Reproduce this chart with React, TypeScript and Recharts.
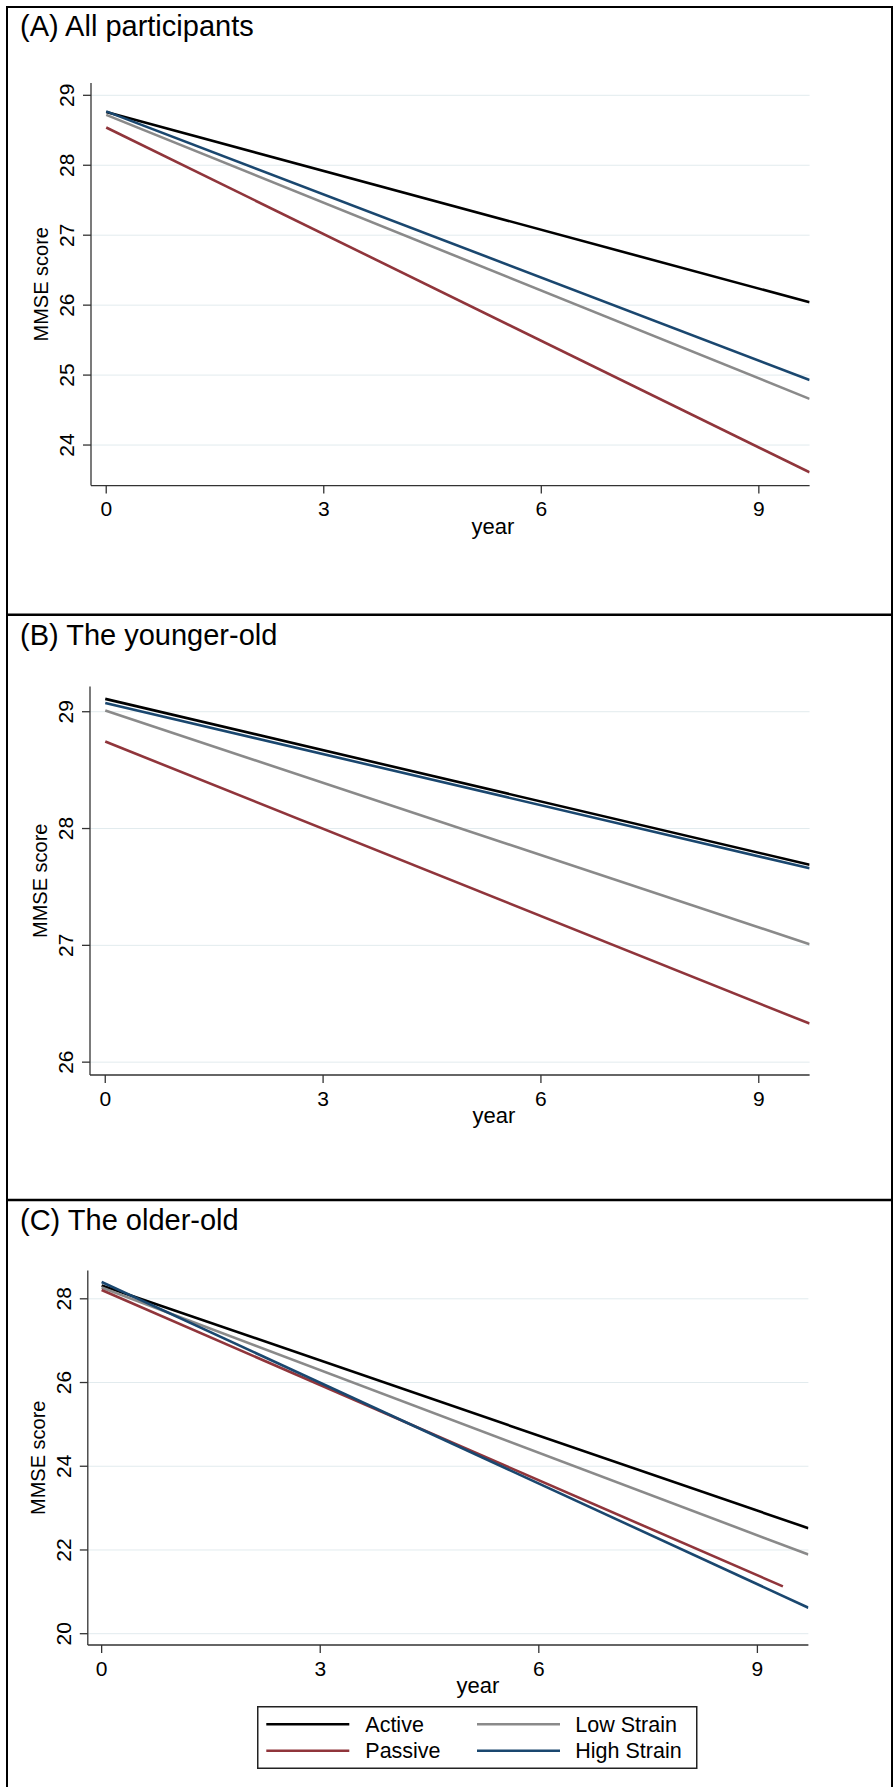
import React from 'react';
import { LineChart, Line, XAxis, YAxis, CartesianGrid } from 'recharts';

const FONT = '"Liberation Sans", Arial, Helvetica, sans-serif';
const W = 894;
const H = 1787;
const Y_AXIS_W = 60;
const X_AXIS_H = 40;

const seriesNames = ['Active', 'Low Strain', 'Passive', 'High Strain'];
const seriesColors = ['#000000', '#8a8a8a', '#90353b', '#1a476f'];
const xTicks = [0, 3, 6, 9];

// (A) All participants
const titleA = '(A) All participants';
const yearsA = [0, 9.7];
const activeA = [28.76, 26.04];
const lowA = [28.72, 24.66];
const passiveA = [28.54, 23.61];
const highA = [28.77, 24.93];
const yTicksA = [24, 25, 26, 27, 28, 29];

// (B) The younger-old
const titleB = '(B) The younger-old';
const yearsB = [0, 9.7];
const activeB = [29.11, 27.69];
const lowB = [29.01, 27.01];
const passiveB = [28.745, 26.33];
const highB = [29.075, 27.66];
const yTicksB = [26, 27, 28, 29];

// (C) The older-old
const titleC = '(C) The older-old';
const yearsC = [0, 9.7];
const yearsPassiveC = [0, 9.35];
const activeC = [28.32, 22.52];
const lowC = [28.27, 21.89];
const passiveC = [28.21, 21.13];
const highC = [28.4, 20.62];
const yTicksC = [20, 22, 24, 26, 28];

const mk = (i: number, years: number[], values: number[]) => ({
  name: seriesNames[i],
  color: seriesColors[i],
  data: years.map((year, k) => ({ year, value: values[k] })),
});

const panels = [
  {
    title: titleA, top: 0, bottom: 615, titleY: 36,
    plot: { left: 91, right: 809.6, top: 83, bottom: 485.6 },
    xDomain: [-0.21, 9.7], yDomain: [23.42, 29.176], yTicks: yTicksA, yearX: 493,
    series: [mk(0, yearsA, activeA), mk(1, yearsA, lowA), mk(2, yearsA, passiveA), mk(3, yearsA, highA)],
  },
  {
    title: titleB, top: 615, bottom: 1200, titleY: 645.2,
    plot: { left: 90, right: 809.6, top: 686.5, bottom: 1075 },
    xDomain: [-0.21, 9.7], yDomain: [25.89, 29.216], yTicks: yTicksB, yearX: 494,
    series: [mk(0, yearsB, activeB), mk(1, yearsB, lowB), mk(2, yearsB, passiveB), mk(3, yearsB, highB)],
  },
  {
    title: titleC, top: 1200, bottom: H, titleY: 1229.7,
    plot: { left: 87.8, right: 808.4, top: 1270.5, bottom: 1645 },
    xDomain: [-0.19, 9.7], yDomain: [19.73, 28.676], yTicks: yTicksC, yearX: 478,
    series: [mk(0, yearsC, activeC), mk(1, yearsC, lowC), mk(2, yearsPassiveC, passiveC), mk(3, yearsC, highC)],
  },
];

const YTick = (props: any) => {
  const { x, y, payload } = props;
  return (
    <text x={x} y={y} transform={`rotate(-90 ${x} ${y})`} textAnchor="middle"
      fontSize={21} fontFamily={FONT} fill="#000">{payload.value}</text>
  );
};

const XTick = (props: any) => {
  const { x, y, payload } = props;
  return (
    <text x={x} y={y} dy={15} textAnchor="middle" fontSize={21} fontFamily={FONT} fill="#000">
      {payload.value}
    </text>
  );
};

function Panel({ p }: { p: (typeof panels)[number] }) {
  const h = p.bottom - p.top;
  const top = p.plot.top - p.top;
  const bottom = p.plot.bottom - p.top;
  const midY = (top + bottom) / 2;
  return (
    <div style={{ position: 'absolute', left: 0, top: p.top, width: W, height: h }}>
      <LineChart width={W} height={h}
        margin={{ top, bottom: h - bottom - X_AXIS_H, left: p.plot.left - Y_AXIS_W, right: W - p.plot.right }}>
        <CartesianGrid vertical={false} stroke="#e2ebee" strokeWidth={1} syncWithTicks />
        <XAxis type="number" dataKey="year" domain={p.xDomain} ticks={xTicks} allowDataOverflow
          height={X_AXIS_H} tickSize={8} tickMargin={7.5} tick={<XTick />}
          axisLine={{ stroke: '#333', strokeWidth: 1.3 }} tickLine={{ stroke: '#333', strokeWidth: 1.3 }}
          label={{ content: () => (
            <text x={p.yearX} y={bottom + 48} textAnchor="middle" fontSize={22} fontFamily={FONT} fill="#000">year</text>
          ) }} />
        <YAxis type="number" domain={p.yDomain} ticks={p.yTicks} allowDataOverflow
          width={Y_AXIS_W} tickSize={8} tickMargin={9} tick={<YTick />}
          axisLine={{ stroke: '#333', strokeWidth: 1.3 }} tickLine={{ stroke: '#333', strokeWidth: 1.3 }}
          label={{ content: () => {
            const x = p.plot.left - 43;
            return (
              <text x={x} y={midY} transform={`rotate(-90 ${x} ${midY})`} textAnchor="middle"
                fontSize={20} fontFamily={FONT} fill="#000">MMSE score</text>
            );
          } }} />
        {p.series.map((s) => (
          <Line key={s.name} data={s.data} dataKey="value" name={s.name} type="linear"
            stroke={s.color} strokeWidth={2.6} dot={false} activeDot={false} isAnimationActive={false} />
        ))}
      </LineChart>
    </div>
  );
}

function LegendBox() {
  const rowY = [18.3, 44.7];
  const items = seriesNames.map((name, i) => ({ name, color: seriesColors[i], col: i % 2, row: Math.floor(i / 2) }));
  return (
    <svg style={{ position: 'absolute', left: 256.7, top: 1706 }} width={441} height={63}>
      <rect x={0.75} y={0.75} width={439} height={61.5} fill="#fff" stroke="#222" strokeWidth={1.5} />
      {items.map((it) => {
        const x0 = it.col === 0 ? 9.3 : 220;
        const tx = it.col === 0 ? 108.3 : 318.3;
        const y = rowY[it.row];
        return (
          <g key={it.name}>
            <line x1={x0} x2={x0 + 83} y1={y} y2={y} stroke={it.color} strokeWidth={2.5} />
            <text x={tx} y={y + 7.5} fontSize={21.5} fontFamily={FONT} fill="#000">{it.name}</text>
          </g>
        );
      })}
    </svg>
  );
}

export default function App() {
  return (
    <div style={{ position: 'absolute', left: 0, top: 0, width: W, height: H, background: '#fff', overflow: 'hidden' }}>
      {panels.map((p) => <Panel key={p.title} p={p} />)}
      <LegendBox />
      <svg style={{ position: 'absolute', left: 0, top: 0, pointerEvents: 'none' }} width={W} height={H}>
        <rect x={7} y={7} width={885} height={H + 10} fill="none" stroke="#000" strokeWidth={2} />
        <line x1={7} x2={892} y1={614.8} y2={614.8} stroke="#000" strokeWidth={2.5} />
        <line x1={7} x2={892} y1={1200} y2={1200} stroke="#000" strokeWidth={2.5} />
        {panels.map((p) => (
          <text key={p.title} x={20} y={p.titleY} fontSize={29} fontFamily={FONT} fill="#000">{p.title}</text>
        ))}
      </svg>
    </div>
  );
}
